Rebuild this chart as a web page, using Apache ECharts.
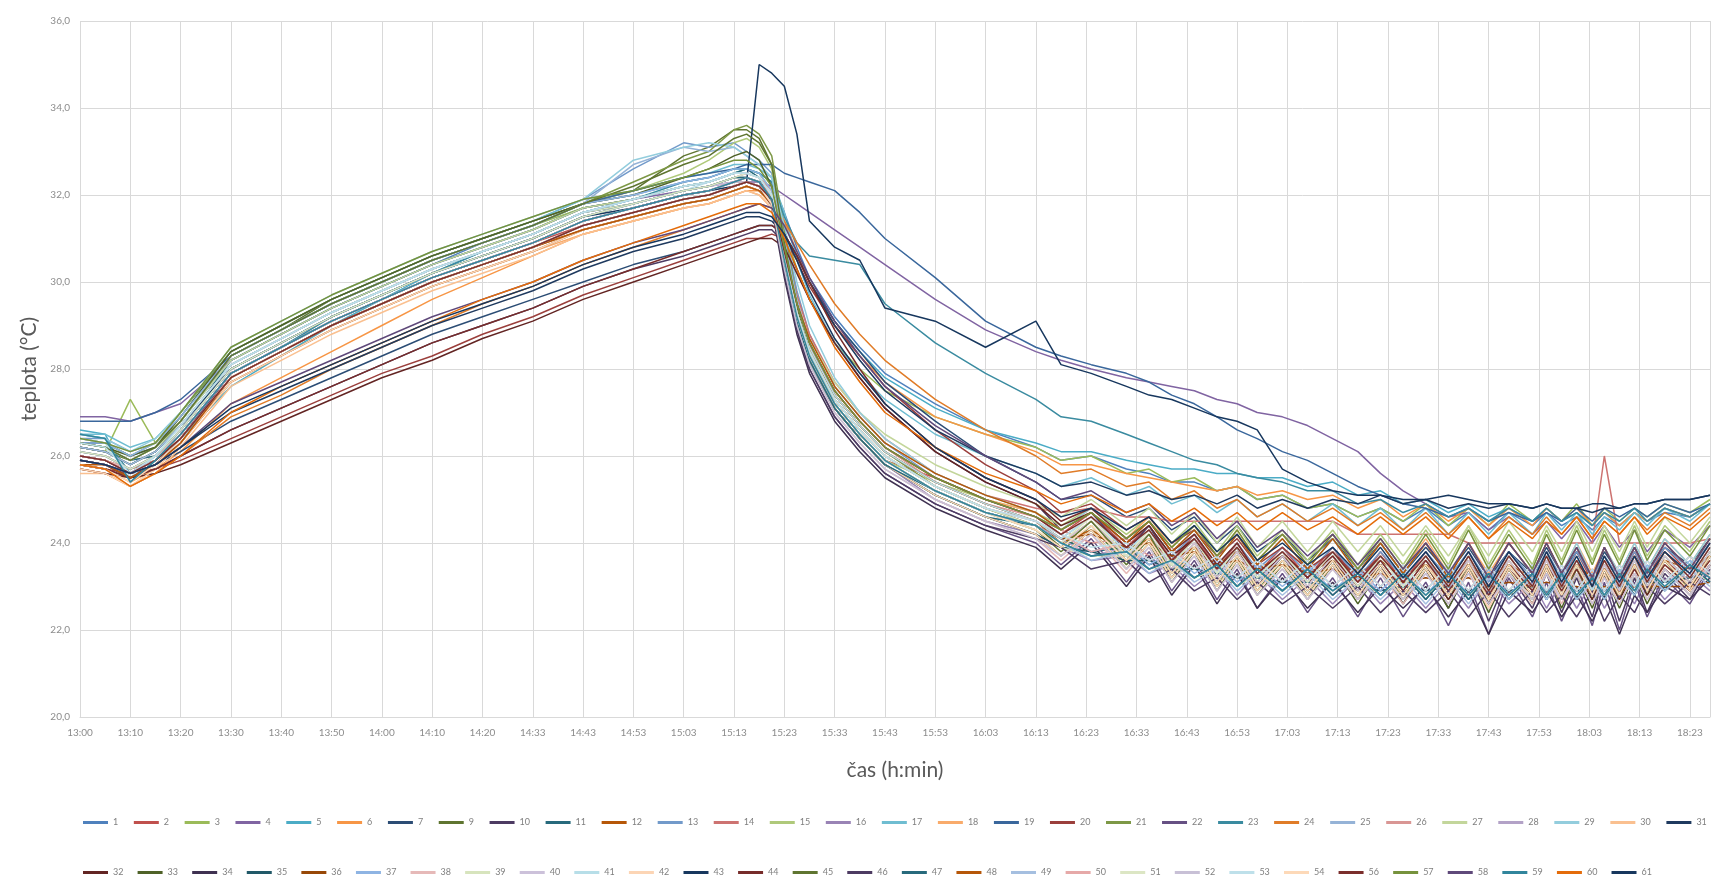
<!DOCTYPE html>
<html>
<head>
<meta charset="utf-8">
<script src="https://cdn.jsdelivr.net/npm/echarts@6/dist/echarts.min.js"></script>
<style>
  html, body { margin: 0; padding: 0; background: #fff; }
  #chart-container { width: 1713px; height: 879px; }
</style>
</head>
<body>
<div id="chart-container"></div>
<script>
// x positions in "label steps" (0 = 13:00, 32 = 18:23)
const xs = [0,0.5,1,1.5,2,3,4,5,6,7,8,9,10,11,12,
  12.5,13,13.25,13.5,13.75,14,14.25,14.5,15,15.5,16,
  17,18,19,
  19.5,20.1,20.8,21.25,21.7,22.15,22.6,23.0,23.4,23.9,24.4,24.9,25.4,25.85,26.3,26.75,27.2,27.6,28.0,28.4,28.87,29.15,29.45,29.75,30.06,30.3,30.6,30.9,31.15,31.5,32.0,32.4];

const tickLabels = ['13:00','13:10','13:20','13:30','13:40','13:50','14:00','14:10','14:20','14:33','14:43','14:53','15:03','15:13','15:23','15:33','15:43','15:53','16:03','16:13','16:23','16:33','16:43','16:53','17:03','17:13','17:23','17:33','17:43','17:53','18:03','18:13','18:23'];

const names = ['1','2','3','4','5','6','7','9','10','11','12','13','14','15','16','17','18','19','20','21','22','23','24','25','26','27','28','29','30','31',
  '32','33','34','35','36','37','38','39','40','41','42','43','44','45','46','47','48','49','50','51','52','53','54','56','57','58','59','60','61'];

const colors = ['#4F81BD','#C0504D','#9BBB59','#8064A2','#4BACC6','#F79646','#2C4D75','#5F7530','#4D3B62','#276A7C','#B65708','#729ACA','#CD7371','#AFC97A','#9983B5','#6FBDD1','#F9AB6B','#3A679C','#9B3F3C','#7D9846','#665083','#3A8BA0','#E07C28','#95B3D7','#D99694','#C3D69B','#B3A2C7','#93CDDD','#FAC090','#1F3A5F',
  '#632523','#4F6228','#3F3151','#215968','#984807','#8EB4E3','#E6B9B8','#D7E4BD','#CCC1DA','#B7DEE8','#FCD5B5','#17375E','#772C2A','#5F7530','#4D3B62','#276A7C','#B65708','#A5BFE0','#E6A9A8','#DCE6C4','#C8C0D6','#BEE0EA','#FDD9B8','#7B2E2C','#76923C','#5F497A','#31859C','#E46C0A','#17375E'];

const t1 = [26.3,26.3,26.0,26.2,26.8, 28.2,28.8,29.4,29.9,30.4,30.9,31.3,31.8,32.0,32.3, 32.4,32.6,32.6,32.5,32.3,31.6,30.8,30.1,29.2,28.5,27.9, 27.2,26.6,26.2, 25.9,26.0,25.7,25.6,25.4,25.4,25.2,25.3,25.0,25.1,24.8,24.9,24.6,24.8,24.5,24.8,24.4,24.7,24.3,24.7,24.4,24.7,24.4,24.6,24.3,24.6,24.4,24.7,24.5,24.7,24.6,24.9];
const t2 = [26.0,25.9,25.6,25.9,26.4, 27.9,28.5,29.1,29.6,30.1,30.5,30.9,31.3,31.6,31.9, 32.0,32.2,32.3,32.2,31.9,30.5,29.2,28.3,27.2,26.5,25.9, 25.5,25.0,24.6, 24.2,24.7,23.9,24.4,23.6,24.2,23.4,24.0,23.3,23.9,23.2,23.9,23.1,23.8,23.1,23.8,23.1,23.8,23.0,23.8,23.1,23.8,23.1,23.8,23.1,23.7,23.1,23.8,23.2,23.9,23.3,24.0];
const t3 = [26.2,26.1,27.3,26.3,26.8, 28.3,28.9,29.5,30.0,30.5,30.9,31.3,31.7,31.9,32.2, 32.3,32.5,32.6,32.5,32.1,31.2,30.3,29.6,28.6,28.0,27.5, 26.9,26.5,26.2, 25.9,26.0,25.6,25.7,25.4,25.5,25.2,25.3,25.0,25.1,24.8,24.9,24.6,24.8,24.5,24.9,24.4,24.8,24.4,24.9,24.5,24.8,24.5,24.9,24.4,24.8,24.5,24.8,24.6,24.9,24.7,25.0];
const t4 = [26.9,26.9,26.8,27.0,27.2, 28.2,28.8,29.4,29.9,30.4,30.8,31.2,31.7,31.9,32.1, 32.2,32.3,32.3,32.3,32.2,32.0,31.8,31.6,31.2,30.8,30.4, 29.6,28.9,28.4, 28.2,28.0,27.8,27.7,27.6,27.5,27.3,27.2,27.0,26.9,26.7,26.4,26.1,25.6,25.2,24.9,24.6,24.7,24.3,24.6,24.2,24.5,24.1,24.5,24.0,24.4,23.9,24.3,23.8,24.3,23.9,24.4];
const t5 = [26.6,26.5,25.4,25.9,26.4, 27.6,28.3,29.0,29.6,30.2,30.7,31.1,31.6,31.9,32.2, 32.3,32.5,32.6,32.5,32.3,31.4,30.6,30.0,29.1,28.4,27.8, 27.1,26.6,26.3, 26.1,26.1,25.9,25.8,25.7,25.7,25.6,25.6,25.5,25.5,25.3,25.4,25.1,25.2,24.9,25.0,24.7,24.9,24.6,24.8,24.5,24.8,24.5,24.7,24.4,24.7,24.4,24.7,24.5,24.8,24.6,24.9];
const t6 = [25.8,25.7,25.4,25.7,26.1, 27.2,27.8,28.4,29.0,29.6,30.1,30.6,31.1,31.4,31.7, 31.8,32.0,32.1,32.1,32.0,31.4,30.7,30.0,29.0,28.3,27.7, 26.9,26.5,26.1, 25.8,25.8,25.6,25.5,25.4,25.3,25.2,25.3,25.1,25.2,25.0,25.1,24.8,25.0,24.6,24.9,24.5,24.8,24.4,24.8,24.4,24.8,24.5,24.8,24.4,24.7,24.4,24.7,24.5,24.8,24.6,24.9];
const t7 = [25.9,25.8,25.6,25.8,26.1, 26.8,27.3,27.8,28.3,28.8,29.2,29.6,30.0,30.4,30.7, 30.9,31.1,31.2,31.3,31.3,31.1,30.6,30.0,29.1,28.4,27.7, 26.8,26.0,25.4, 25.0,25.1,24.6,24.8,24.3,24.6,24.0,24.4,23.8,24.2,23.6,24.1,23.4,24.0,23.3,23.9,23.3,23.9,23.2,23.8,23.3,23.9,23.3,23.8,23.2,23.8,23.3,23.9,23.4,23.9,23.5,24.1];
const t9 = [26.2,26.1,25.9,26.2,26.8, 28.3,28.9,29.6,30.1,30.6,31.0,31.4,31.8,32.1,32.9, 33.1,33.5,33.5,33.3,32.7,31.0,29.4,28.4,27.2,26.5,25.9, 25.2,24.7,24.3, 23.8,24.4,23.5,24.1,23.2,23.9,23.0,23.7,22.9,23.6,22.8,23.6,22.7,23.5,22.7,23.5,22.7,23.5,22.6,23.4,22.7,23.5,22.7,23.4,22.7,23.4,22.7,23.5,22.8,23.6,22.9,23.7];
const t10 = [25.8,25.7,25.5,25.7,26.0, 26.6,27.1,27.6,28.1,28.6,29.0,29.4,29.9,30.3,30.6, 30.8,31.0,31.1,31.2,31.2,30.9,30.3,29.6,28.6,27.8,27.1, 26.1,25.4,24.9, 24.3,24.7,23.8,24.4,23.5,24.1,23.2,23.9,23.0,23.7,22.9,23.6,22.7,23.5,22.6,23.4,22.5,23.4,22.2,23.3,22.5,23.3,22.4,23.2,22.3,23.3,22.2,23.2,22.4,23.3,22.7,23.5];
const t11 = [26.3,26.2,25.9,26.0,26.6, 28.2,28.8,29.4,29.9,30.4,30.8,31.2,31.7,31.9,32.2, 32.3,32.5,32.6,32.4,31.8,30.2,29.0,28.1,27.1,26.4,25.8, 25.1,24.6,24.4, 24.1,23.8,23.9,23.5,23.7,23.2,23.5,23.0,23.4,22.9,23.4,22.8,23.3,22.8,23.3,22.7,23.3,22.7,23.3,22.7,23.3,22.7,23.3,22.7,23.2,22.7,23.3,22.8,23.4,22.9,23.5,23.1];
const t12 = [26.0,25.9,25.7,25.9,26.4, 27.8,28.4,29.0,29.5,30.0,30.4,30.8,31.2,31.5,31.8, 31.9,32.1,32.2,32.1,31.8,30.5,29.3,28.4,27.4,26.7,26.1, 25.4,24.9,24.5, 24.0,24.3,23.8,24.1,23.6,23.9,23.5,23.8,23.4,23.7,23.3,23.6,23.3,23.6,23.2,23.5,23.2,23.5,23.2,23.5,23.2,23.5,23.2,23.5,23.2,23.4,23.2,23.5,23.3,23.6,23.4,23.7];
const t13 = [26.4,26.4,26.1,26.3,26.9, 28.4,29.0,29.6,30.1,30.6,31.0,31.4,31.9,32.6,33.2, 33.1,33.2,33.0,32.8,32.5,31.2,29.8,28.8,27.6,26.9,26.3, 25.5,25.0,24.6, 24.3,24.7,24.0,24.4,23.7,24.2,23.5,24.0,23.4,23.9,23.3,23.9,23.2,23.8,23.2,23.8,23.2,23.8,23.1,23.8,23.2,23.8,23.2,23.8,23.2,23.7,23.2,23.8,23.3,23.9,23.4,24.0];
const t14 = [26.0,25.9,25.7,25.9,26.5, 27.9,28.5,29.1,29.6,30.1,30.5,30.9,31.4,31.7,32.0, 32.1,32.3,32.4,32.3,32.0,30.9,29.7,28.8,27.7,27.0,26.4, 25.6,25.1,24.8, 24.7,24.8,24.6,24.6,24.5,24.5,24.5,24.5,24.5,24.5,24.5,24.5,24.2,24.2,24.2,24.2,24.2,24.0,24.0,24.0,24.0,24.0,24.0,24.0,24.0,26.0,24.0,24.0,24.0,24.0,24.0,24.1];
const t15 = [26.2,26.1,25.8,26.1,26.8, 28.3,28.9,29.5,30.0,30.5,30.9,31.3,31.8,32.1,32.5, 32.8,33.2,33.3,33.1,32.6,30.8,29.3,28.3,27.2,26.5,25.9, 25.4,25.0,24.7, 24.4,24.8,24.2,24.6,24.0,24.5,23.8,24.4,23.7,24.3,23.6,24.3,23.5,24.2,23.5,24.3,23.5,24.4,23.5,24.3,23.5,24.3,23.6,24.4,23.6,24.3,23.6,24.4,23.7,24.4,23.8,24.5];
const t16 = [26.0,25.9,25.6,26.0,26.6, 28.0,28.6,29.2,29.7,30.2,30.6,31.0,31.5,31.8,32.1, 32.2,32.3,32.4,32.3,31.9,30.4,29.1,28.2,27.1,26.4,25.8, 25.0,24.5,24.2, 23.9,23.6,23.7,23.3,23.5,23.0,23.4,22.8,23.3,22.7,23.2,22.6,23.2,22.6,23.1,22.5,23.1,22.5,23.2,22.6,23.1,22.5,23.1,22.5,23.1,22.5,23.1,22.6,23.2,22.7,23.3,22.9];
const t17 = [26.5,26.5,26.2,26.4,27.0, 28.4,29.0,29.6,30.1,30.6,31.0,31.4,31.9,32.1,32.4, 32.5,32.7,32.7,32.6,32.4,31.6,30.5,29.7,28.6,27.9,27.3, 26.5,26.0,25.6, 25.3,25.5,25.1,25.3,24.9,25.1,24.7,25.0,24.6,24.9,24.5,24.9,24.4,24.8,24.3,24.8,24.2,24.7,24.2,24.7,24.2,24.7,24.3,24.7,24.2,24.6,24.3,24.7,24.4,24.8,24.5,24.9];
const t18 = [25.7,25.6,25.3,25.7,26.3, 27.7,28.3,28.9,29.4,29.9,30.3,30.7,31.1,31.4,31.7, 31.8,32.0,32.1,32.0,31.7,30.6,29.4,28.5,27.5,26.8,26.2, 25.5,25.0,24.7, 24.3,24.8,24.1,24.6,23.9,24.4,23.7,24.3,23.6,24.2,23.5,24.2,23.4,24.1,23.4,24.1,23.3,24.0,23.3,24.0,23.3,24.0,23.3,24.0,23.3,23.9,23.3,24.0,23.4,24.1,23.5,24.2];
const t19 = [26.8,26.8,26.8,27.0,27.3, 28.3,28.9,29.5,30.0,30.5,30.9,31.3,31.8,32.1,32.4, 32.5,32.6,32.7,32.7,32.7,32.5,32.4,32.3,32.1,31.6,31.0, 30.1,29.1,28.5, 28.3,28.1,27.9,27.7,27.4,27.2,26.9,26.6,26.4,26.1,25.9,25.6,25.3,25.1,24.9,24.8,24.6,24.8,24.5,24.7,24.5,24.7,24.5,24.8,24.5,24.8,24.6,24.8,24.6,24.9,24.7,24.9];
const t20 = [25.8,25.7,25.6,25.7,25.9, 26.4,26.9,27.4,27.9,28.3,28.8,29.2,29.7,30.1,30.5, 30.7,30.9,31.0,31.0,31.1,31.0,30.5,29.9,29.0,28.3,27.6, 26.6,25.8,25.2, 24.7,24.9,24.3,24.6,24.0,24.3,23.7,24.1,23.5,23.9,23.4,23.8,23.2,23.7,23.1,23.6,23.0,23.6,22.9,23.5,23.0,23.6,23.0,23.5,22.9,23.5,22.9,23.5,23.0,23.6,23.1,23.7];
const t21 = [26.4,26.3,26.0,26.3,27.0, 28.4,29.0,29.6,30.1,30.6,31.0,31.4,31.8,32.3,32.8, 33.0,33.5,33.6,33.4,32.9,31.2,29.6,28.6,27.4,26.7,26.1, 25.3,24.8,24.4, 24.0,24.5,23.7,24.2,23.4,24.0,23.2,23.8,23.1,23.7,23.0,23.7,22.9,23.6,22.9,23.6,22.9,23.6,22.8,23.6,22.9,23.6,22.9,23.5,22.9,23.5,22.9,23.6,23.0,23.7,23.1,23.8];
const t22 = [25.9,25.8,25.5,25.8,26.4, 27.9,28.5,29.1,29.6,30.1,30.5,30.9,31.4,31.7,32.0, 32.1,32.3,32.4,32.3,31.9,30.3,28.9,28.0,26.9,26.2,25.6, 24.9,24.4,24.0, 23.5,24.1,23.1,23.8,22.9,23.6,22.7,23.4,22.5,23.3,22.4,23.2,22.3,23.2,22.3,23.1,22.1,23.1,21.9,23.2,22.3,23.1,22.2,23.0,22.1,23.1,22.0,23.1,22.3,23.2,22.6,23.4];
const t23 = [26.5,26.4,25.6,26.0,26.5, 27.9,28.5,29.2,29.7,30.2,30.7,31.1,31.6,31.9,32.3, 32.4,32.6,32.6,32.5,32.3,31.5,30.9,30.6,30.5,30.4,29.5, 28.6,27.9,27.3, 26.9,26.8,26.5,26.3,26.1,25.9,25.8,25.6,25.5,25.4,25.2,25.2,24.9,25.0,24.7,24.9,24.6,24.8,24.5,24.8,24.5,24.8,24.5,24.7,24.4,24.7,24.5,24.8,24.5,24.8,24.6,24.9];
const t24 = [25.7,25.6,25.3,25.6,26.0, 26.9,27.4,28.0,28.5,29.0,29.5,29.9,30.4,30.8,31.2, 31.4,31.6,31.7,31.8,31.7,31.4,30.9,30.4,29.5,28.8,28.2, 27.3,26.6,26.0, 25.6,25.7,25.3,25.4,25.0,25.2,24.8,25.0,24.6,24.9,24.5,24.8,24.4,24.7,24.3,24.7,24.2,24.6,24.1,24.6,24.2,24.6,24.2,24.6,24.1,24.5,24.2,24.6,24.3,24.7,24.4,24.8];
const t25 = [26.3,26.2,25.9,26.2,26.8, 28.3,28.9,29.5,30.0,30.5,30.9,31.3,31.8,32.7,33.1, 33.0,33.1,32.9,32.7,32.4,31.0,29.6,28.6,27.4,26.7,26.1, 25.4,24.9,24.5, 24.1,24.6,23.8,24.3,23.5,24.1,23.3,23.9,23.2,23.8,23.1,23.8,23.0,23.7,23.0,23.7,22.9,23.7,22.9,23.7,23.0,23.7,23.0,23.6,23.0,23.6,23.0,23.7,23.1,23.8,23.2,23.9];
const t26 = [26.1,26.0,25.7,26.0,26.6, 28.0,28.6,29.2,29.7,30.2,30.6,31.0,31.5,31.8,32.1, 32.2,32.4,32.5,32.4,32.1,30.8,29.5,28.6,27.5,26.8,26.2, 25.4,24.9,24.6, 24.3,24.0,24.1,23.7,23.9,23.4,23.7,23.2,23.6,23.1,23.6,23.0,23.5,23.0,23.5,22.9,23.5,22.9,23.5,22.9,23.5,22.9,23.5,22.9,23.4,22.9,23.5,23.0,23.6,23.1,23.7,23.3];
const t27 = [26.3,26.2,25.9,26.2,26.8, 28.2,28.8,29.4,29.9,30.4,30.8,31.2,31.7,31.9,32.2, 32.3,32.5,32.5,32.4,32.0,30.7,29.5,28.7,27.7,27.0,26.5, 25.8,25.3,24.9, 24.6,25.0,24.4,24.8,24.2,24.7,24.0,24.6,23.9,24.5,23.8,24.5,23.8,24.4,23.7,24.4,23.7,24.4,23.7,24.5,23.8,24.4,23.8,24.5,23.8,24.4,23.8,24.5,23.9,24.6,24.0,24.6];
const t28 = [26.0,25.9,25.6,26.0,26.6, 28.1,28.7,29.3,29.8,30.3,30.7,31.1,31.6,31.8,32.1, 32.2,32.4,32.5,32.4,32.0,30.5,29.2,28.3,27.2,26.5,25.9, 25.2,24.7,24.4, 24.1,23.7,23.9,23.4,23.7,23.2,23.5,23.0,23.5,22.9,23.4,22.8,23.4,22.8,23.3,22.8,23.3,22.7,23.3,22.8,23.3,22.8,23.3,22.8,23.2,22.8,23.3,22.9,23.4,23.0,23.5,23.1];
const t29 = [26.5,26.4,26.1,26.4,27.0, 28.5,29.1,29.7,30.2,30.7,31.1,31.5,31.9,32.8,33.1, 33.2,33.1,32.9,32.7,32.4,31.3,30.0,29.0,27.8,27.0,26.4, 25.6,25.1,24.7, 24.3,24.8,24.1,24.5,23.8,24.3,23.6,24.2,23.5,24.1,23.4,24.1,23.3,24.0,23.3,24.0,23.3,24.0,23.2,24.0,23.3,24.0,23.3,24.0,23.2,23.9,23.3,24.0,23.4,24.1,23.5,24.2];
const t30 = [25.6,25.6,25.3,25.6,26.2, 27.6,28.2,28.8,29.3,29.8,30.2,30.6,31.1,31.4,31.7, 31.8,32.0,32.1,32.0,31.7,30.5,29.3,28.4,27.3,26.6,26.0, 25.3,24.8,24.4, 24.0,24.5,23.7,24.2,23.4,24.0,23.2,23.8,23.1,23.7,23.0,23.7,22.9,23.6,22.9,23.6,22.8,23.6,22.7,23.6,22.9,23.6,22.9,23.5,22.8,23.5,22.8,23.5,22.9,23.6,23.0,23.7];
const t31 = [25.9,25.8,25.6,25.8,26.2, 27.0,27.5,28.0,28.5,29.0,29.4,29.8,30.3,30.7,31.0, 31.2,31.4,31.5,31.5,31.4,31.1,30.6,30.0,29.0,28.2,27.5, 26.6,26.0,25.6, 25.3,25.4,25.1,25.2,25.0,25.1,24.9,25.1,24.8,25.0,24.8,25.0,24.9,25.1,24.9,25.0,24.8,24.9,24.8,24.9,24.8,24.9,24.8,24.8,24.7,24.8,24.8,24.9,24.9,25.0,25.0,25.1];
const t32 = [25.7,25.6,25.5,25.6,25.8, 26.3,26.8,27.3,27.8,28.2,28.7,29.1,29.6,30.0,30.4, 30.6,30.8,30.9,31.0,31.0,30.8,30.2,29.6,28.6,27.8,27.1, 26.1,25.4,24.9, 24.4,24.7,24.0,24.4,23.7,24.1,23.4,23.9,23.2,23.7,23.1,23.6,22.9,23.5,22.8,23.5,22.7,23.4,22.6,23.4,22.8,23.4,22.8,23.3,22.7,23.3,22.7,23.3,22.8,23.4,22.9,23.5];
const t33 = [26.3,26.2,26.0,26.2,26.9, 28.4,29.0,29.6,30.1,30.6,31.0,31.4,31.8,32.0,32.4, 32.6,32.9,33.0,32.8,32.2,30.4,29.1,28.2,27.1,26.4,25.8, 25.1,24.6,24.2, 23.7,24.3,23.4,24.0,23.1,23.8,22.9,23.6,22.8,23.5,22.7,23.5,22.6,23.4,22.6,23.4,22.5,23.4,22.4,23.4,22.6,23.4,22.5,23.3,22.5,23.3,22.5,23.3,22.6,23.4,22.8,23.5];
const t34 = [26.0,25.9,25.6,25.9,26.5, 27.9,28.5,29.1,29.6,30.1,30.5,30.9,31.4,31.7,32.0, 32.1,32.3,32.3,32.2,31.7,30.1,28.8,27.9,26.8,26.1,25.5, 24.8,24.3,23.9, 23.4,24.0,23.0,23.7,22.8,23.5,22.6,23.3,22.5,23.2,22.5,23.1,22.4,23.0,22.5,23.0,22.3,22.9,21.9,22.9,22.4,22.9,22.3,22.8,22.2,22.8,21.9,22.8,22.4,23.0,22.7,23.2];
const t35 = [26.2,26.1,25.8,26.1,26.7, 28.1,28.7,29.3,29.8,30.3,30.7,31.1,31.6,31.8,32.1, 32.2,32.4,32.4,32.3,31.9,30.4,29.1,28.2,27.1,26.4,25.8, 25.1,24.6,24.2, 23.9,23.8,23.6,23.6,23.4,23.4,23.3,23.2,23.2,23.1,23.1,23.0,23.0,22.9,23.0,22.9,23.0,22.9,23.0,22.9,23.0,22.9,23.0,22.9,23.0,22.9,23.0,23.0,23.1,23.1,23.2,23.3];
const t36 = [25.9,25.8,25.5,25.8,26.3, 27.7,28.3,28.9,29.4,29.9,30.3,30.7,31.2,31.5,31.8, 31.9,32.1,32.2,32.1,31.8,30.6,29.4,28.5,27.4,26.7,26.1, 25.4,24.9,24.5, 24.1,24.2,23.9,24.0,23.7,23.8,23.5,23.6,23.4,23.5,23.3,23.4,23.2,23.3,23.1,23.2,23.1,23.2,23.0,23.1,23.0,23.1,23.0,23.0,22.9,23.0,22.9,23.0,23.0,23.0,23.0,23.1];
const t37 = [26.4,26.3,26.0,26.3,26.9, 28.3,28.9,29.5,30.0,30.5,30.9,31.3,31.8,32.0,32.3, 32.4,32.6,32.6,32.5,32.1,30.6,29.3,28.4,27.3,26.6,26.0, 25.3,24.8,24.5, 24.2,23.8,24.0,23.5,23.8,23.3,23.6,23.1,23.5,23.0,23.5,22.9,23.4,22.9,23.4,22.8,23.4,22.8,23.4,22.8,23.4,22.8,23.4,22.8,23.3,22.8,23.4,22.9,23.5,23.0,23.6,23.2];
const t38 = [26.0,25.9,25.7,26.0,26.5, 27.9,28.5,29.1,29.6,30.1,30.5,30.9,31.4,31.7,32.0, 32.1,32.3,32.3,32.2,31.8,30.3,29.0,28.1,27.0,26.3,25.7, 25.0,24.5,24.1, 23.6,24.2,23.3,23.9,23.1,23.7,22.9,23.5,22.8,23.4,22.7,23.4,22.7,23.3,22.6,23.3,22.6,23.3,22.5,23.3,22.6,23.3,22.6,23.3,22.6,23.2,22.6,23.3,22.7,23.4,22.8,23.5];
const t39 = [26.2,26.1,25.8,26.1,26.7, 28.1,28.7,29.3,29.8,30.3,30.7,31.1,31.6,31.8,32.1, 32.2,32.4,32.4,32.3,31.9,30.5,29.2,28.3,27.2,26.5,25.9, 25.2,24.7,24.3, 23.9,23.7,23.7,23.4,23.5,23.2,23.4,23.0,23.3,22.9,23.3,22.9,23.2,22.8,23.2,22.8,23.2,22.8,23.2,22.8,23.2,22.8,23.2,22.8,23.1,22.8,23.2,22.9,23.3,23.0,23.4,23.1];
const t40 = [26.1,26.0,25.7,26.0,26.6, 28.0,28.6,29.2,29.7,30.2,30.6,31.0,31.5,31.8,32.1, 32.2,32.3,32.4,32.3,31.9,30.6,29.3,28.4,27.3,26.6,26.0, 25.3,24.8,24.4, 24.0,24.5,23.7,24.2,23.4,24.0,23.2,23.8,23.1,23.7,23.0,23.7,22.9,23.6,22.9,23.6,22.9,23.6,22.8,23.6,22.9,23.6,22.9,23.5,22.9,23.5,22.9,23.6,23.0,23.7,23.1,23.8];
const t41 = [26.4,26.3,25.5,26.0,26.6, 28.0,28.6,29.2,29.7,30.2,30.6,31.0,31.5,31.8,32.1, 32.3,32.5,32.5,32.4,32.0,30.7,29.4,28.5,27.4,26.7,26.1, 25.4,24.9,24.5, 24.1,24.6,23.8,24.3,23.5,24.1,23.3,23.9,23.2,23.8,23.1,23.8,23.0,23.7,23.0,23.7,23.0,23.7,22.9,23.7,23.0,23.7,23.0,23.7,22.9,23.6,23.0,23.7,23.1,23.8,23.2,23.9];
const t42 = [25.7,25.6,25.3,25.7,26.3, 27.7,28.3,28.9,29.4,29.9,30.3,30.7,31.2,31.5,31.8, 31.9,32.1,32.2,32.1,31.7,30.4,29.1,28.2,27.1,26.4,25.8, 25.1,24.6,24.2, 23.7,24.3,23.4,24.0,23.2,23.8,23.0,23.6,22.9,23.5,22.8,23.5,22.7,23.4,22.7,23.4,22.6,23.4,22.5,23.4,22.7,23.4,22.7,23.3,22.6,23.3,22.6,23.3,22.7,23.5,22.9,23.6];
const t43 = [26.2,26.1,25.8,26.1,26.7, 28.0,28.6,29.2,29.7,30.2,30.6,31.0,31.5,31.7,32.0, 32.1,32.2,32.3,35.0,34.8,34.5,33.4,31.4,30.8,30.5,29.4, 29.1,28.5,29.1, 28.1,27.9,27.6,27.4,27.3,27.1,26.9,26.8,26.6,25.7,25.4,25.2,25.1,25.1,25.0,25.0,25.1,25.0,24.9,24.9,24.8,24.9,24.8,24.8,24.9,24.9,24.8,24.9,24.9,25.0,25.0,25.1];
const t44 = [25.8,25.7,25.5,25.7,26.0, 26.6,27.1,27.6,28.1,28.6,29.0,29.4,29.9,30.3,30.7, 30.9,31.1,31.2,31.3,31.3,31.1,30.6,30.0,28.9,28.0,27.2, 26.2,25.5,25.0, 24.5,24.8,24.1,24.5,23.8,24.2,23.5,24.0,23.3,23.8,23.2,23.7,23.0,23.6,22.9,23.6,22.9,23.5,22.8,23.5,22.9,23.5,22.9,23.4,22.8,23.4,22.8,23.4,22.9,23.5,23.0,23.6];
const t45 = [26.3,26.2,25.9,26.2,26.8, 28.3,28.9,29.5,30.0,30.5,30.9,31.3,31.8,32.2,32.7, 32.9,33.3,33.4,33.2,32.7,30.9,29.4,28.4,27.3,26.6,26.0, 25.3,24.8,24.4, 23.9,24.5,23.6,24.2,23.3,23.9,23.1,23.7,23.0,23.6,22.9,23.6,22.8,23.5,22.8,23.5,22.8,23.5,22.7,23.5,22.8,23.5,22.8,23.5,22.8,23.4,22.8,23.5,22.9,23.6,23.0,23.7];
const t46 = [25.9,25.8,25.5,25.8,26.4, 27.8,28.4,29.0,29.5,30.0,30.4,30.8,31.3,31.6,31.9, 32.0,32.2,32.3,32.2,31.8,30.2,28.9,28.0,26.9,26.2,25.6, 24.9,24.4,24.1, 23.9,23.4,23.6,23.1,23.4,22.9,23.2,22.7,23.1,22.6,23.0,22.5,23.0,22.4,22.9,22.4,22.9,22.3,22.9,22.3,22.9,22.4,22.8,22.3,22.9,22.2,22.8,22.4,23.0,22.6,23.1,22.8];
const t47 = [26.1,26.0,25.7,26.0,26.6, 28.0,28.6,29.2,29.7,30.2,30.6,31.0,31.5,31.8,32.1, 32.2,32.4,32.4,32.3,31.9,30.4,29.1,28.2,27.1,26.4,25.8, 25.2,24.7,24.4, 24.0,23.7,23.8,23.4,23.6,23.2,23.5,23.0,23.4,22.9,23.4,22.8,23.3,22.8,23.3,22.7,23.3,22.7,23.3,22.7,23.3,22.7,23.3,22.7,23.2,22.7,23.3,22.8,23.4,22.9,23.5,23.1];
const t48 = [25.8,25.8,25.5,25.8,26.3, 27.8,28.4,29.0,29.5,30.0,30.4,30.8,31.2,31.5,31.8, 31.9,32.1,32.2,32.1,31.8,30.7,29.5,28.7,27.6,26.9,26.3, 25.6,25.1,24.7, 24.3,24.7,24.0,24.5,23.8,24.3,23.6,24.2,23.5,24.1,23.4,24.1,23.3,24.0,23.3,24.0,23.2,24.0,23.2,24.0,23.3,24.0,23.3,23.9,23.2,23.9,23.2,23.9,23.3,24.0,23.4,24.1];
const t49 = [26.2,26.1,25.8,26.1,26.7, 28.1,28.7,29.3,29.8,30.3,30.7,31.1,31.6,31.9,32.2, 32.3,32.5,32.5,32.4,32.0,30.5,29.2,28.3,27.2,26.5,25.9, 25.2,24.7,24.4, 24.0,23.6,23.8,23.3,23.6,23.1,23.4,22.9,23.3,22.8,23.3,22.7,23.2,22.7,23.2,22.6,23.2,22.6,23.2,22.7,23.2,22.7,23.2,22.7,23.1,22.7,23.2,22.8,23.3,22.9,23.4,23.0];
const t50 = [26.0,25.9,25.6,25.9,26.5, 27.9,28.5,29.1,29.6,30.1,30.5,30.9,31.4,31.7,32.0, 32.1,32.3,32.4,32.3,31.9,30.6,29.3,28.4,27.3,26.6,26.0, 25.3,24.8,24.5, 24.2,23.8,24.0,23.6,23.8,23.4,23.7,23.2,23.6,23.1,23.6,23.0,23.5,23.0,23.5,22.9,23.5,22.9,23.5,22.9,23.5,22.9,23.5,22.9,23.4,22.9,23.5,23.0,23.6,23.1,23.7,23.2];
const t51 = [26.1,26.0,25.7,26.0,26.6, 28.0,28.6,29.2,29.7,30.2,30.6,31.0,31.5,31.8,32.1, 32.2,32.4,32.5,32.4,32.0,30.6,29.3,28.4,27.3,26.6,26.0, 25.3,24.8,24.4, 24.0,24.6,23.7,24.3,23.5,24.1,23.3,23.9,23.2,23.8,23.1,23.8,23.0,23.7,23.0,23.7,23.0,23.7,22.9,23.7,23.0,23.7,23.0,23.6,23.0,23.6,23.0,23.7,23.1,23.8,23.2,23.9];
const t52 = [25.9,25.8,25.6,25.9,26.5, 27.9,28.5,29.1,29.6,30.1,30.5,30.9,31.4,31.7,32.0, 32.1,32.3,32.3,32.2,31.8,30.3,29.0,28.1,27.0,26.3,25.7, 25.0,24.5,24.1, 23.7,24.2,23.4,23.9,23.1,23.7,22.9,23.5,22.8,23.4,22.7,23.4,22.7,23.3,22.7,23.3,22.6,23.3,22.6,23.3,22.7,23.3,22.7,23.3,22.6,23.2,22.6,23.3,22.7,23.4,22.8,23.5];
const t53 = [26.3,26.2,25.6,26.0,26.7, 28.1,28.7,29.3,29.8,30.3,30.7,31.1,31.6,31.9,32.2, 32.3,32.5,32.5,32.4,32.0,30.6,29.3,28.4,27.3,26.6,26.0, 25.3,24.8,24.5, 24.2,23.9,24.0,23.6,23.8,23.4,23.7,23.2,23.6,23.1,23.6,23.0,23.5,23.0,23.5,22.9,23.5,22.9,23.5,22.9,23.5,22.9,23.5,22.9,23.4,22.9,23.5,23.0,23.6,23.1,23.7,23.3];
const t54 = [25.8,25.7,25.4,25.8,26.4, 27.8,28.4,29.0,29.5,30.0,30.4,30.8,31.3,31.6,31.9, 32.0,32.2,32.3,32.2,31.8,30.5,29.2,28.3,27.2,26.5,25.9, 25.2,24.7,24.3, 23.9,24.4,23.6,24.1,23.3,23.9,23.1,23.7,23.0,23.6,22.9,23.6,22.8,23.5,22.8,23.5,22.8,23.5,22.7,23.5,22.8,23.5,22.8,23.5,22.8,23.4,22.8,23.5,22.9,23.6,23.0,23.7];
const t56 = [26.0,25.9,25.6,25.9,26.4, 27.8,28.4,29.0,29.5,30.0,30.4,30.8,31.3,31.6,31.9, 32.0,32.2,32.3,32.2,31.9,30.7,29.5,28.6,27.5,26.8,26.2, 25.5,25.0,24.6, 24.2,24.6,23.9,24.3,23.6,24.1,23.4,23.9,23.3,23.8,23.2,23.8,23.1,23.7,23.1,23.7,23.0,23.7,22.9,23.7,23.0,23.7,23.0,23.6,23.0,23.6,23.0,23.7,23.1,23.8,23.2,23.9];
const t57 = [26.4,26.3,26.1,26.3,27.0, 28.5,29.1,29.7,30.2,30.7,31.1,31.5,31.9,32.1,32.4, 32.6,32.8,32.8,32.6,32.2,30.8,29.5,28.6,27.5,26.8,26.2, 25.5,25.0,24.6, 24.3,24.7,24.1,24.5,23.9,24.4,23.7,24.3,23.6,24.2,23.5,24.2,23.4,24.1,23.4,24.2,23.4,24.3,23.4,24.2,23.4,24.2,23.5,24.3,23.5,24.2,23.5,24.3,23.6,24.3,23.7,24.4];
const t58 = [25.9,25.8,25.6,25.8,26.2, 27.2,27.7,28.2,28.7,29.2,29.6,30.0,30.5,30.9,31.2, 31.4,31.6,31.7,31.8,31.7,31.3,30.7,30.1,29.1,28.3,27.6, 26.7,26.0,25.4, 25.0,25.2,24.7,24.9,24.4,24.7,24.1,24.5,23.9,24.3,23.7,24.2,23.5,24.1,23.4,24.0,23.3,24.0,23.2,24.0,23.3,24.0,23.3,23.9,23.2,23.9,23.2,23.9,23.3,24.0,23.4,24.1];
const t59 = [26.5,26.4,25.4,25.9,26.5, 27.9,28.5,29.1,29.6,30.1,30.5,30.9,31.4,31.7,32.0, 32.1,32.3,32.4,32.3,31.9,30.5,29.2,28.3,27.2,26.5,25.9, 25.2,24.7,24.4, 24.0,23.7,23.8,23.4,23.6,23.2,23.5,23.0,23.4,22.9,23.4,22.9,23.3,22.8,23.3,22.8,23.3,22.8,23.3,22.8,23.3,22.8,23.3,22.8,23.2,22.8,23.3,22.9,23.4,23.0,23.5,23.2];
const t60 = [25.8,25.7,25.3,25.6,26.0, 27.0,27.6,28.1,28.6,29.1,29.6,30.0,30.5,30.9,31.3, 31.5,31.7,31.8,31.8,31.6,31.0,30.3,29.6,28.5,27.7,27.0, 26.2,25.6,25.2, 24.9,25.1,24.7,24.9,24.5,24.8,24.4,24.7,24.3,24.7,24.3,24.6,24.2,24.6,24.2,24.6,24.1,24.6,24.1,24.5,24.1,24.5,24.2,24.6,24.1,24.5,24.2,24.6,24.2,24.6,24.3,24.7];
const t61 = [25.9,25.8,25.6,25.8,26.2, 27.1,27.6,28.1,28.6,29.1,29.5,29.9,30.4,30.8,31.1, 31.3,31.5,31.6,31.6,31.5,31.1,30.5,29.8,28.7,27.9,27.2, 26.2,25.5,25.0, 24.6,24.8,24.3,24.6,24.0,24.4,23.8,24.2,23.6,24.0,23.5,23.9,23.3,23.9,23.2,23.8,23.1,23.8,23.0,23.8,23.1,23.8,23.1,23.7,23.0,23.7,23.1,23.7,23.2,23.8,23.3,24.0];

const values = [t1,t2,t3,t4,t5,t6,t7,t9,t10,t11,t12,t13,t14,t15,t16,t17,t18,t19,t20,t21,t22,t23,t24,t25,t26,t27,t28,t29,t30,t31,
  t32,t33,t34,t35,t36,t37,t38,t39,t40,t41,t42,t43,t44,t45,t46,t47,t48,t49,t50,t51,t52,t53,t54,t56,t57,t58,t59,t60,t61];

var dom = document.getElementById('chart-container');
var myChart = echarts.init(dom, null, { renderer: 'canvas' });

const font = 'Lato, "Open Sans", sans-serif';
const legendBase = {
  left: 78,
  width: 1700,
  orient: 'horizontal',
  icon: 'rect',
  itemWidth: 25,
  itemHeight: 3,
  selectedMode: false,
  textStyle: { fontSize: 9, color: '#7f7f7f', fontFamily: font }
};

var option = {
  animation: false,
  backgroundColor: '#fff',
  grid: { left: 80, right: 0, top: 21, bottom: 162 },
  legend: [
    // row 1 has the one-digit names, so it gets a wider gap
    Object.assign({}, legendBase, { top: 813, itemGap: 15.6, data: names.slice(0, 30) }),
    Object.assign({}, legendBase, { top: 863, itemGap: 14.15, data: names.slice(30) })
  ],
  xAxis: {
    type: 'value',
    min: 0,
    max: 32.4,
    interval: 1,
    name: 'čas (h:min)',
    nameLocation: 'middle',
    nameGap: 43,
    nameTextStyle: { fontSize: 21, color: '#595959', fontFamily: font },
    axisLine: { show: true, lineStyle: { color: '#d9d9d9', width: 1 } },
    axisTick: { show: false },
    axisLabel: {
      fontSize: 10, color: '#8c8c8c', fontFamily: font, margin: 11,
      formatter: function (v) {
        return Number.isInteger(v) && tickLabels[v] ? tickLabels[v] : '';
      }
    },
    splitLine: { show: true, lineStyle: { color: '#d9d9d9', width: 1 } }
  },
  yAxis: {
    type: 'value',
    min: 20,
    max: 36,
    interval: 2,
    name: 'teplota (°C)',
    nameLocation: 'middle',
    nameGap: 40,
    nameTextStyle: { fontSize: 21, color: '#595959', fontFamily: font },
    axisLine: { show: false },
    axisTick: { show: false },
    axisLabel: {
      fontSize: 10, color: '#8c8c8c', fontFamily: font, margin: 10,
      formatter: function (v) { return v.toFixed(1).replace('.', ','); }
    },
    splitLine: { show: true, lineStyle: { color: '#d9d9d9', width: 1 } }
  },
  series: names.map(function (n, i) {
    return {
      name: n,
      type: 'line',
      showSymbol: false,
      symbol: 'none',
      lineStyle: { width: 1.5, color: colors[i] },
      itemStyle: { color: colors[i] },
      data: xs.map(function (x, j) { return [x, values[i][j]]; })
    };
  })
};

myChart.setOption(option);
window.addEventListener('resize', myChart.resize);
</script>
</body>
</html>
